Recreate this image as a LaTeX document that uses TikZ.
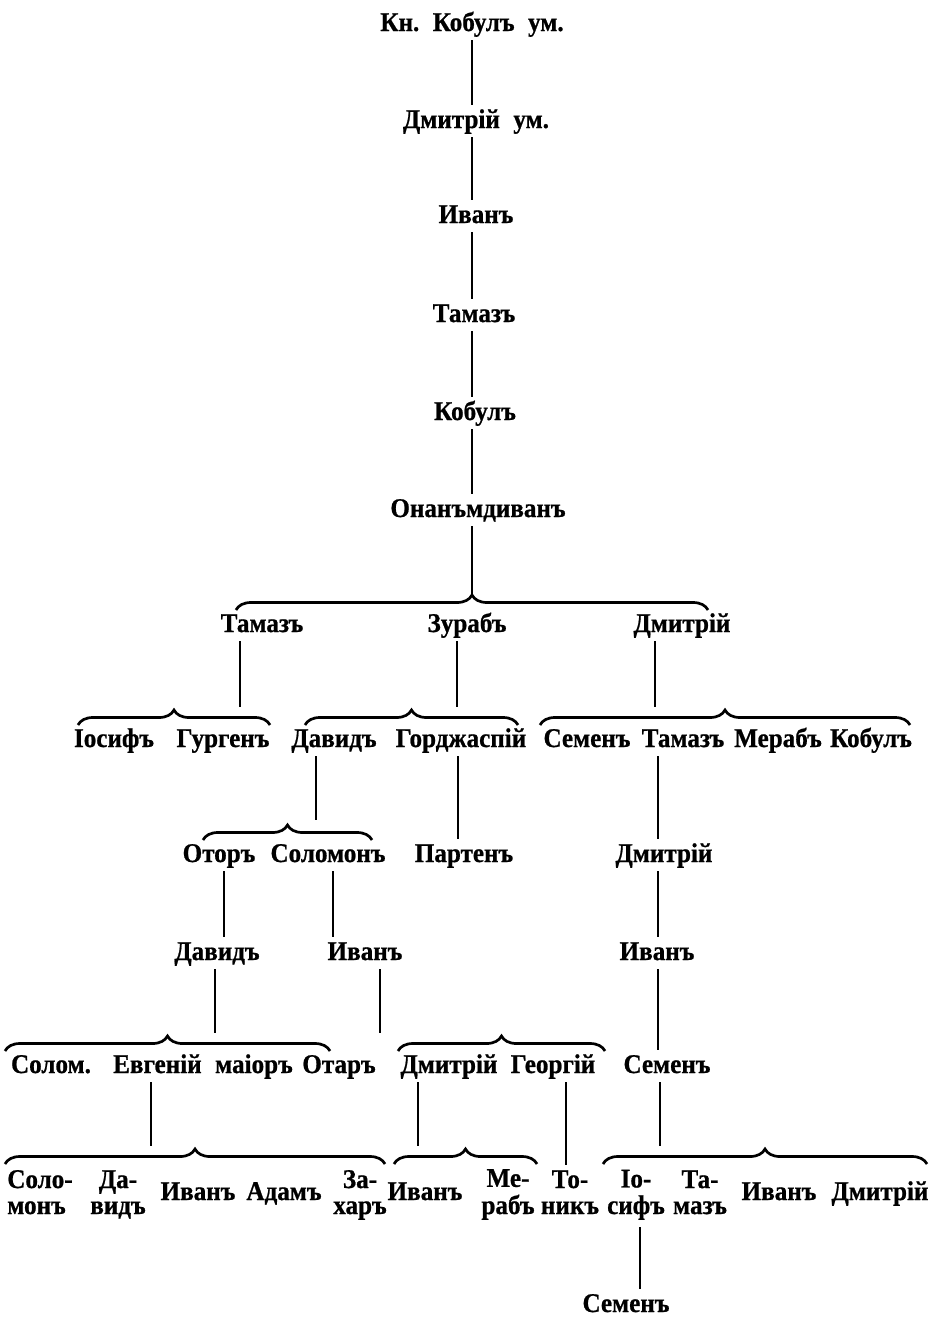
\documentclass[tikz,border=0pt]{standalone}
\usepackage{fontspec}
\setmainfont{Liberation Serif}[FakeStretch=0.93, BoldFeatures={FakeBold=0.8}]
\usetikzlibrary{decorations.pathreplacing}
\tikzset{
  person/.style={anchor=base, inner xsep=0pt, inner ysep=5pt,
    font=\fontsize{27pt}{26pt}\selectfont\bfseries,
    text height=18pt, text depth=4pt},
  persontwo/.style={anchor=base, inner xsep=0pt, inner ysep=5pt,
    font=\fontsize{27pt}{26pt}\selectfont\bfseries},
  link/.style={line width=1.5pt, black},
  brc/.style={decorate, decoration={brace, amplitude=15pt}, line width=2.7pt}
}
\newcommand\twoline[3][c]{\begin{tabular}[b]{@{}#1@{}}#2\\#3\end{tabular}}
\newcommand\wsp{\hspace{0.5em}}
\begin{document}
\begin{tikzpicture}[x=1pt, y=-1pt]
\useasboundingbox[fill=white] (0,0) rectangle (944,1317);

% main line of descent
\node[person] (kn)  at (472,31)  {Кн.\wsp Кобулъ\wsp ум.};
\node[person] (dm2) at (476,128) {Дмитрій\wsp ум.};
\node[person] (iv3) at (476,223) {Иванъ};
\node[person] (tm4) at (474,322) {Тамазъ};
\node[person] (kb5) at (475,420) {Кобулъ};
\node[person] (on6) at (478,517) {Онанъмдиванъ};

% sons of the mdivan
\node[person] (tm7) at (262,632) {Тамазъ};
\node[person] (zr7) at (467,632) {Зурабъ};
\node[person] (dm7) at (682,632) {Дмитрій};

% grandsons
\node[person] (io8) at (114,747) {Іосифъ};
\node[person] (gu8) at (223,747) {Гургенъ};
\node[person] (dv8) at (334,747) {Давидъ};
\node[person] (gd8) at (461,747) {Горджаспій};
\node[person] (sm8) at (587,747) {Семенъ};
\node[person] (tm8) at (683,747) {Тамазъ};
\node[person] (mr8) at (778,747) {Мерабъ};
\node[person] (kb8) at (871,747) {Кобулъ};

\node[person] (ot9) at (219,862) {Оторъ};
\node[person] (sl9) at (328,862) {Соломонъ};
\node[person] (pt9) at (464,862) {Партенъ};
\node[person] (dm9) at (664,862) {Дмитрій};

\node[person] (dv10)  at (217,960) {Давидъ};
\node[person] (iv10)  at (365,960) {Иванъ};
\node[person] (iv10r) at (657,960) {Иванъ};

\node[person] (sl11) at (51,1073)  {Солом.};
\node[person] (ev11) at (203,1073) {Евгеній\wsp маіоръ};
\node[person] (ot11) at (339,1073) {Отаръ};
\node[person] (dm11) at (449,1073) {Дмитрій};
\node[person] (ge11) at (553,1073) {Георгій};
\node[person] (sm11) at (667,1073) {Семенъ};

\node[persontwo] (sl12) at (40,1214)  {\twoline[l]{Соло-}{монъ}};
\node[persontwo] (dv12) at (118,1214) {\twoline{Да-}{видъ}};
\node[person]  (iv12a) at (198,1200) {Иванъ};
\node[person]  (ad12) at (284,1200) {Адамъ};
\node[persontwo] (zh12) at (360,1214) {\twoline{За-}{харъ}};
\node[person]  (iv12b) at (425,1200) {Иванъ};
\node[persontwo] (mr12) at (508,1214) {\twoline{Ме-}{рабъ}};
\node[persontwo] (to12) at (570,1214) {\twoline{То-}{никъ}};
\node[persontwo] (io12) at (636,1214) {\twoline{Іо-}{сифъ}};
\node[persontwo] (tm12) at (700,1214) {\twoline{Та-}{мазъ}};
\node[person]  (iv12c) at (779,1200) {Иванъ};
\node[person]  (dm12) at (880,1200) {Дмитрій};

\node[person] (sm13) at (626,1312) {Семенъ};

% braces grouping brothers
\draw[brc] (236,610) -- (708,610);
\draw[brc] (78,725) -- (270,725);
\draw[brc] (305,725) -- (518,725);
\draw[brc] (540,725) -- (910,725);
\draw[brc] (203,840) -- (372,840);
\draw[brc] (5,1051) -- (330,1051);
\draw[brc] (398,1051) -- (605,1051);
\draw[brc] (5,1164) -- (385,1164);
\draw[brc] (394,1164) -- (537,1164);
\draw[brc] (603,1164) -- (927,1164);

% free ends of the lines above the braces
\coordinate (e7)  at (472,595);
\coordinate (eA)  at (240,707);
\coordinate (eB)  at (457,707);
\coordinate (eC)  at (655,707);
\coordinate (eD)  at (316,820);
\coordinate (eE)  at (215,1033);
\coordinate (eOt) at (380,1033);
\coordinate (eG)  at (151,1146);
\coordinate (eH)  at (418,1146);
\coordinate (eI)  at (660,1146);

% columns of the node-to-node lines
\coordinate (x0) at (472,0);
\coordinate (x1) at (458,0);
\coordinate (x2) at (658,0);
\coordinate (x3) at (224,0);
\coordinate (x4) at (333,0);
\coordinate (x5) at (566,0);
\coordinate (x6) at (640,0);

\draw[link] (kn.south -| x0) -- (dm2.north -| x0);
\draw[link] (dm2.south -| x0) -- (iv3.north -| x0);
\draw[link] (iv3.south -| x0) -- (tm4.north -| x0);
\draw[link] (tm4.south -| x0) -- (kb5.north -| x0);
\draw[link] (kb5.south -| x0) -- (on6.north -| x0);
\draw[link] (on6.south -| e7) -- (e7);

\draw[link] (tm7.south -| eA) -- (eA);
\draw[link] (zr7.south -| eB) -- (eB);
\draw[link] (dm7.south -| eC) -- (eC);

\draw[link] (dv8.south -| eD) -- (eD);
\draw[link] (gd8.south -| x1) -- (pt9.north -| x1);
\draw[link] (tm8.south -| x2) -- (dm9.north -| x2);

\draw[link] (ot9.south -| x3) -- (dv10.north -| x3);
\draw[link] (sl9.south -| x4) -- (iv10.north -| x4);
\draw[link] (dm9.south -| x2) -- (iv10r.north -| x2);

\draw[link] (dv10.south -| eE) -- (eE);
\draw[link] (iv10.south -| eOt) -- (eOt);
\draw[link] (iv10r.south -| x2) -- (sm11.north -| x2);

\draw[link] (ev11.south -| eG) -- (eG);
\draw[link] (dm11.south -| eH) -- (eH);
\draw[link] (ge11.south -| x5) -- (to12.north -| x5);
\draw[link] (sm11.south -| eI) -- (eI);

\draw[link] (io12.south -| x6) -- (sm13.north -| x6);
\end{tikzpicture}
\end{document}
